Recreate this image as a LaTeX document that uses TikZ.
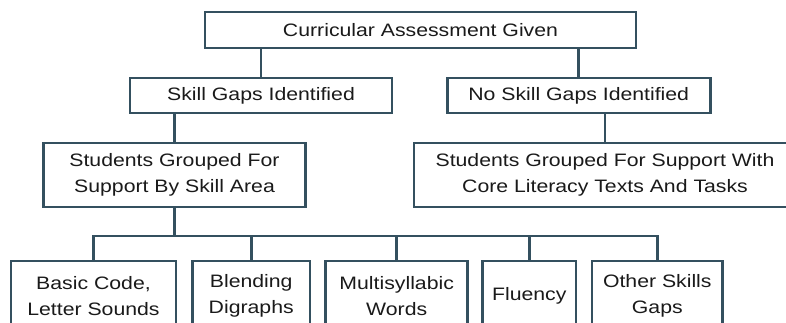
\documentclass[tikz,border=0pt]{standalone}
\usepackage{fontspec}
\setmainfont[FakeStretch=1.18]{Liberation Sans}
\definecolor{slate}{HTML}{34505F}
\definecolor{ink}{HTML}{1A1A1A}
\tikzset{
    box/.style={draw=slate, line width=2.6pt, fill=white, text=ink, align=center,
        inner sep=0pt, font=\fontsize{18}{26}\selectfont},
    link/.style={draw=slate, line width=2.6pt, line join=miter}
}
\begin{document}
\begin{tikzpicture}[x=1pt, y=-1pt]
        \useasboundingbox (0, 0) rectangle (786, 322);
        \clip (0, 0) rectangle (786, 322);
        \node[box, minimum width=431, minimum height=36] (cag) at (420.5, 30) {Curricular Assessment Given};
        \node[box, minimum width=262, minimum height=35] (sg) at (261, 95.5) {Skill Gaps Identified};
        \node[box, minimum width=263, minimum height=35] (nsg) at (578.7, 95.5) {No Skill Gaps Identified};
        \node[box, minimum width=262, minimum height=64] (sgrp) at (174.5, 175) {Students Grouped For\\Support By Skill Area};
        \node[box, minimum width=382, minimum height=64] (cgrp) at (605, 175) {Students Grouped For Support With\\Core Literacy Texts And Tasks};
        \node[box, minimum width=165, minimum height=70] (code) at (93.5, 296) {Basic Code,\\Letter Sounds};
        \node[box, minimum width=117.7, minimum height=70] (blend) at (251.2, 296) {Blending\\Digraphs};
        \node[box, minimum width=142, minimum height=70] (multi) at (396.7, 296) {Multisyllabic\\Words};
        \node[box, minimum width=93.3, minimum height=70] (flu) at (529.3, 296) {Fluency};
        \node[box, minimum width=130.7, minimum height=70] (other) at (657.3, 296) {Other Skills\\Gaps};
        \coordinate (bus) at (174.5, 236);
        \draw[link] (sg.north) -- (sg.north |- cag.south);
        \draw[link] (nsg.north) -- (nsg.north |- cag.south);
        \draw[link] (sgrp.north) -- (sgrp.north |- sg.south);
        \draw[link] (cgrp.north) -- (cgrp.north |- nsg.south);
        \draw[link] (sgrp.south) -- (bus);
        \draw[link] (code.north) -- (code.north |- bus) -- (other.north |- bus) -- (other.north);
        \foreach \n in {blend, multi, flu}
            \draw[link] (\n.north) -- (\n.north |- bus);
\end{tikzpicture}
\end{document}
